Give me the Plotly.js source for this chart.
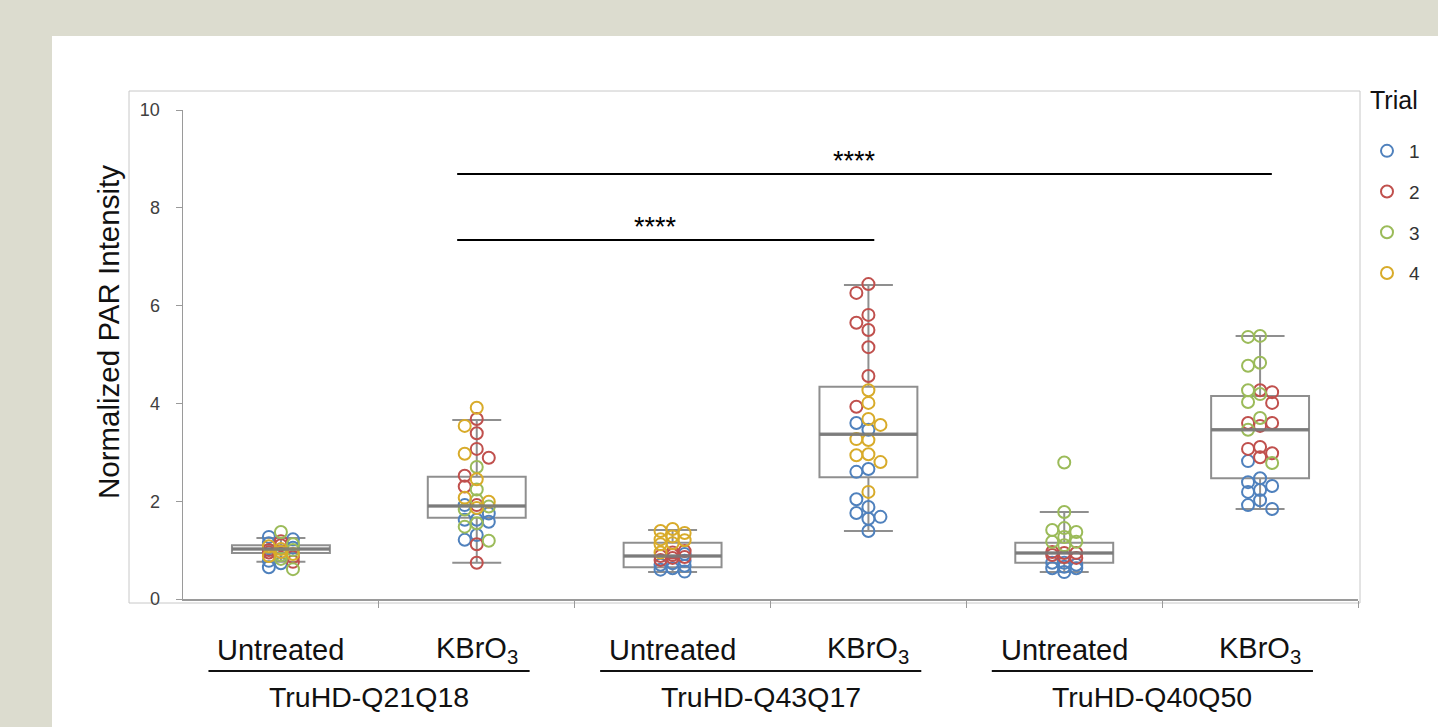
<!DOCTYPE html>
<html>
<head>
<meta charset="utf-8">
<script src="https://cdn.plot.ly/plotly-3.0.1.min.js"></script>
<style>html,body{margin:0;padding:0;background:#dcdccf;}#chart{width:1438px;height:727px;}</style>
</head>
<body>
<div id="chart"></div>
<script>
// ---- data ----
const subLabels = ["Untreated", "KBrO<sub>3</sub>", "Untreated", "KBrO<sub>3</sub>", "Untreated", "KBrO<sub>3</sub>"];
const groupLabels = ["TruHD-Q21Q18", "TruHD-Q43Q17", "TruHD-Q40Q50"];
const yTitle = "Normalized PAR Intensity";
const legendTitle = "Trial";
const trialNames = ["1", "2", "3", "4"];
const trialColors = ["#4f81bd", "#c0504d", "#9bbb59", "#d8ab2a"];

// values per category (6 categories) for each trial
const trial1 = [
  [1.27, 1.22, 1.14, 1.05, 0.78, 0.73, 0.65],
  [1.92, 1.75, 1.62, 1.62, 1.58, 1.31, 1.21],
  [0.92, 0.78, 0.73, 0.70, 0.68, 0.63, 0.60, 0.56],
  [3.60, 3.46, 2.66, 2.60, 2.04, 1.88, 1.76, 1.68, 1.64, 1.39],
  [0.74, 0.74, 0.70, 0.66, 0.63, 0.63, 0.55],
  [2.82, 2.47, 2.39, 2.31, 2.23, 2.19, 2.02, 1.92, 1.84]
];
const trial2 = [
  [1.18, 1.10, 1.00, 0.95, 0.86, 0.76],
  [3.68, 3.39, 3.07, 2.89, 2.52, 2.30, 1.92, 1.12, 0.74],
  [0.98, 0.95, 0.90, 0.88, 0.86, 0.84, 0.80],
  [6.44, 6.26, 5.81, 5.65, 5.50, 5.15, 4.56, 3.93],
  [0.96, 0.94, 0.94, 0.90, 0.86, 0.84],
  [4.23, 4.27, 4.01, 3.60, 3.60, 3.54, 3.11, 3.07, 2.98, 2.90]
];
const trial3 = [
  [1.37, 1.12, 1.00, 0.90, 0.82, 0.61],
  [2.70, 2.24, 2.02, 1.89, 1.83, 1.55, 1.48, 1.19],
  [],
  [],
  [2.79, 1.78, 1.45, 1.41, 1.37, 1.27, 1.17, 1.17, 1.10],
  [5.38, 5.36, 4.83, 4.77, 4.27, 4.19, 4.03, 3.70, 3.46, 2.78]
];
const trial4 = [
  [1.08, 1.02, 0.96, 0.92, 0.88],
  [3.91, 3.54, 2.97, 2.45, 2.07, 1.99, 1.86],
  [1.43, 1.39, 1.35, 1.28, 1.22, 1.20, 1.14, 1.12, 0.95],
  [4.27, 4.01, 3.68, 3.56, 3.27, 3.25, 2.96, 2.94, 2.80, 2.19],
  [],
  []
];

// box statistics
const boxQ1 = [0.94, 1.66, 0.65, 2.49, 0.74, 2.47];
const boxMedian = [1.02, 1.90, 0.88, 3.37, 0.94, 3.46];
const boxQ3 = [1.10, 2.50, 1.15, 4.34, 1.15, 4.15];
const boxLow = [0.76, 0.74, 0.55, 1.39, 0.55, 1.84];
const boxHigh = [1.25, 3.66, 1.41, 6.42, 1.78, 5.38];

// significance comparisons
const sigFrom = [1, 1];
const sigTo = [3, 5];
const sigY = [7.34, 8.69];
const sigText = ["****", "****"];

// ---- layout helpers ----
const FONT = "Liberation Sans, Arial, sans-serif";
const trials = [trial1, trial2, trial3, trial4];
const nCat = 6;
const colStep = 0.0615;   // horizontal offset of a swarm column (category units)
const minGap = 0.2;       // vertical spacing that counts as overlap (value units)

// simple 3-column beeswarm per category
const xs = trials.map(t => t.map(a => a.map(() => 0)));
for (let c = 0; c < nCat; c++) {
  const pts = [];
  trials.forEach((t, ti) => t[c].forEach((v, k) => pts.push({ti, k, v})));
  pts.sort((a, b) => b.v - a.v);
  const placed = {"-1": [], "0": [], "1": []};
  pts.forEach(p => {
    let best = null, bestD = -1;
    for (const col of [0, -1, 1]) {
      let d = Infinity;
      placed[col].forEach(v => { d = Math.min(d, Math.abs(v - p.v)); });
      if (d >= minGap) { best = col; bestD = d; break; }
      if (d > bestD) { bestD = d; best = col; }
    }
    placed[best].push(p.v);
    xs[p.ti][c][p.k] = c + best * colStep;
  });
}

const data = [];
trials.forEach((t, ti) => {
  const x = [], y = [];
  t.forEach((arr, c) => arr.forEach((v, k) => { x.push(xs[ti][c][k]); y.push(v); }));
  data.push({
    type: "scatter", mode: "markers", x, y, name: trialNames[ti],
    legendgroup: "t" + ti,
    marker: {symbol: "circle-open", size: 12, color: trialColors[ti], line: {width: 2, color: trialColors[ti]}},
    hoverinfo: "y"
  });
});

const cats = [...Array(nCat).keys()];
data.push({
  type: "box", x: cats, q1: boxQ1, median: boxMedian, q3: boxQ3,
  lowerfence: boxLow, upperfence: boxHigh,
  width: 0.5, whiskerwidth: 0.5, boxpoints: false,
  fillcolor: "rgba(0,0,0,0)", line: {color: "rgba(105,105,105,0.75)", width: 2},
  showlegend: false, hoverinfo: "skip"
});
const mx = [], my = [];
cats.forEach(c => { mx.push(c - 0.25, c + 0.25, null); my.push(boxMedian[c], boxMedian[c], null); });
data.push({type: "scatter", mode: "lines", x: mx, y: my, line: {color: "rgba(120,120,120,0.85)", width: 3.5},
  showlegend: false, hoverinfo: "skip"});

// plot area in pixels: x 183..1358, y 110..599
const L = 183, R = 1358, T = 110, B = 599;
const px2px = p => (p - L) / (R - L);
const py2py = p => (B - p) / (B - T);

const shapes = [
  {type: "rect", xref: "paper", yref: "paper", x0: px2px(52), x1: px2px(1440), y0: py2py(730), y1: py2py(36),
   fillcolor: "#ffffff", line: {width: 0}, layer: "below"},
  {type: "rect", xref: "paper", yref: "paper", x0: px2px(129), x1: px2px(1360), y0: py2py(603), y1: py2py(91),
   fillcolor: "rgba(0,0,0,0)", line: {width: 1, color: "#c8c8c8"}, layer: "below"}
];
const annotations = [];
subLabels.forEach((s, i) => annotations.push({
  x: i, xref: "x", y: py2py(650), yref: "paper", text: s, showarrow: false, yanchor: "middle",
  font: {family: FONT, size: 29, color: "#111"}
}));
groupLabels.forEach((g, gi) => {
  const x0 = gi * 2 - 0.37, x1 = gi * 2 + 1.27;
  shapes.push({type: "line", xref: "x", yref: "paper", x0, x1, y0: py2py(671), y1: py2py(671),
    line: {color: "#111", width: 2}});
  annotations.push({x: (x0 + x1) / 2, xref: "x", y: py2py(697), yref: "paper", text: g, showarrow: false,
    yanchor: "middle", font: {family: FONT, size: 28.5, color: "#111"}});
});
sigY.forEach((yv, i) => {
  const x0 = sigFrom[i] - 0.1, x1 = sigTo[i] + 0.03 + (sigTo[i] === 5 ? 0.03 : 0);
  shapes.push({type: "line", xref: "x", yref: "y", x0, x1, y0: yv, y1: yv, line: {color: "#000", width: 2}});
  annotations.push({x: (x0 + x1) / 2 - 0.05, xref: "x", y: yv, yref: "y", text: sigText[i], showarrow: false,
    yanchor: "bottom", yshift: -4, font: {family: FONT, size: 27, color: "#000"}});
});
// y-axis title (placed as in the reference, slightly above the plot centre)
annotations.push({x: px2px(108), xref: "paper", y: py2py(332), yref: "paper", text: yTitle, textangle: -90,
  showarrow: false, xanchor: "center", yanchor: "middle", font: {family: FONT, size: 29.5, color: "#111"}});
// legend title
annotations.push({x: px2px(1368), xref: "paper", y: py2py(100), yref: "paper", text: legendTitle,
  showarrow: false, xanchor: "left", yanchor: "middle", font: {family: FONT, size: 25, color: "#111"}});

const layout = {
  width: 1438, height: 727,
  paper_bgcolor: "#dcdccf", plot_bgcolor: "rgba(0,0,0,0)",
  margin: {l: L, r: 1438 - R, t: T, b: 727 - B, pad: 0},
  font: {family: FONT, color: "#333"},
  xaxis: {
    range: [-0.5, 5.5], showgrid: false, zeroline: false, showline: true, linecolor: "#9a9a9a", linewidth: 1.5,
    tickmode: "array", tickvals: [0.5, 1.5, 2.5, 3.5, 4.5, 5.5], ticks: "outside", ticklen: 7, tickcolor: "#9a9a9a",
    showticklabels: false, fixedrange: true
  },
  yaxis: {
    range: [0, 10], showgrid: false, zeroline: false, showline: true, linecolor: "#9a9a9a", linewidth: 1.5,
    tickmode: "array", tickvals: [0, 2, 4, 6, 8, 10], ticks: "outside", ticklen: 6, tickcolor: "#9a9a9a",
    ticklabelstandoff: 12,
    tickfont: {family: FONT, size: 18, color: "#404040"}
  },
  legend: {
    x: px2px(1365), xanchor: "left", y: py2py(132), yanchor: "top",
    font: {family: FONT, size: 19, color: "#333"},
    tracegroupgap: 13, bgcolor: "rgba(0,0,0,0)", itemwidth: 34
  },
  shapes, annotations, showlegend: true
};

Plotly.newPlot("chart", data, layout, {displayModeBar: false, staticPlot: true});
</script>
</body>
</html>
